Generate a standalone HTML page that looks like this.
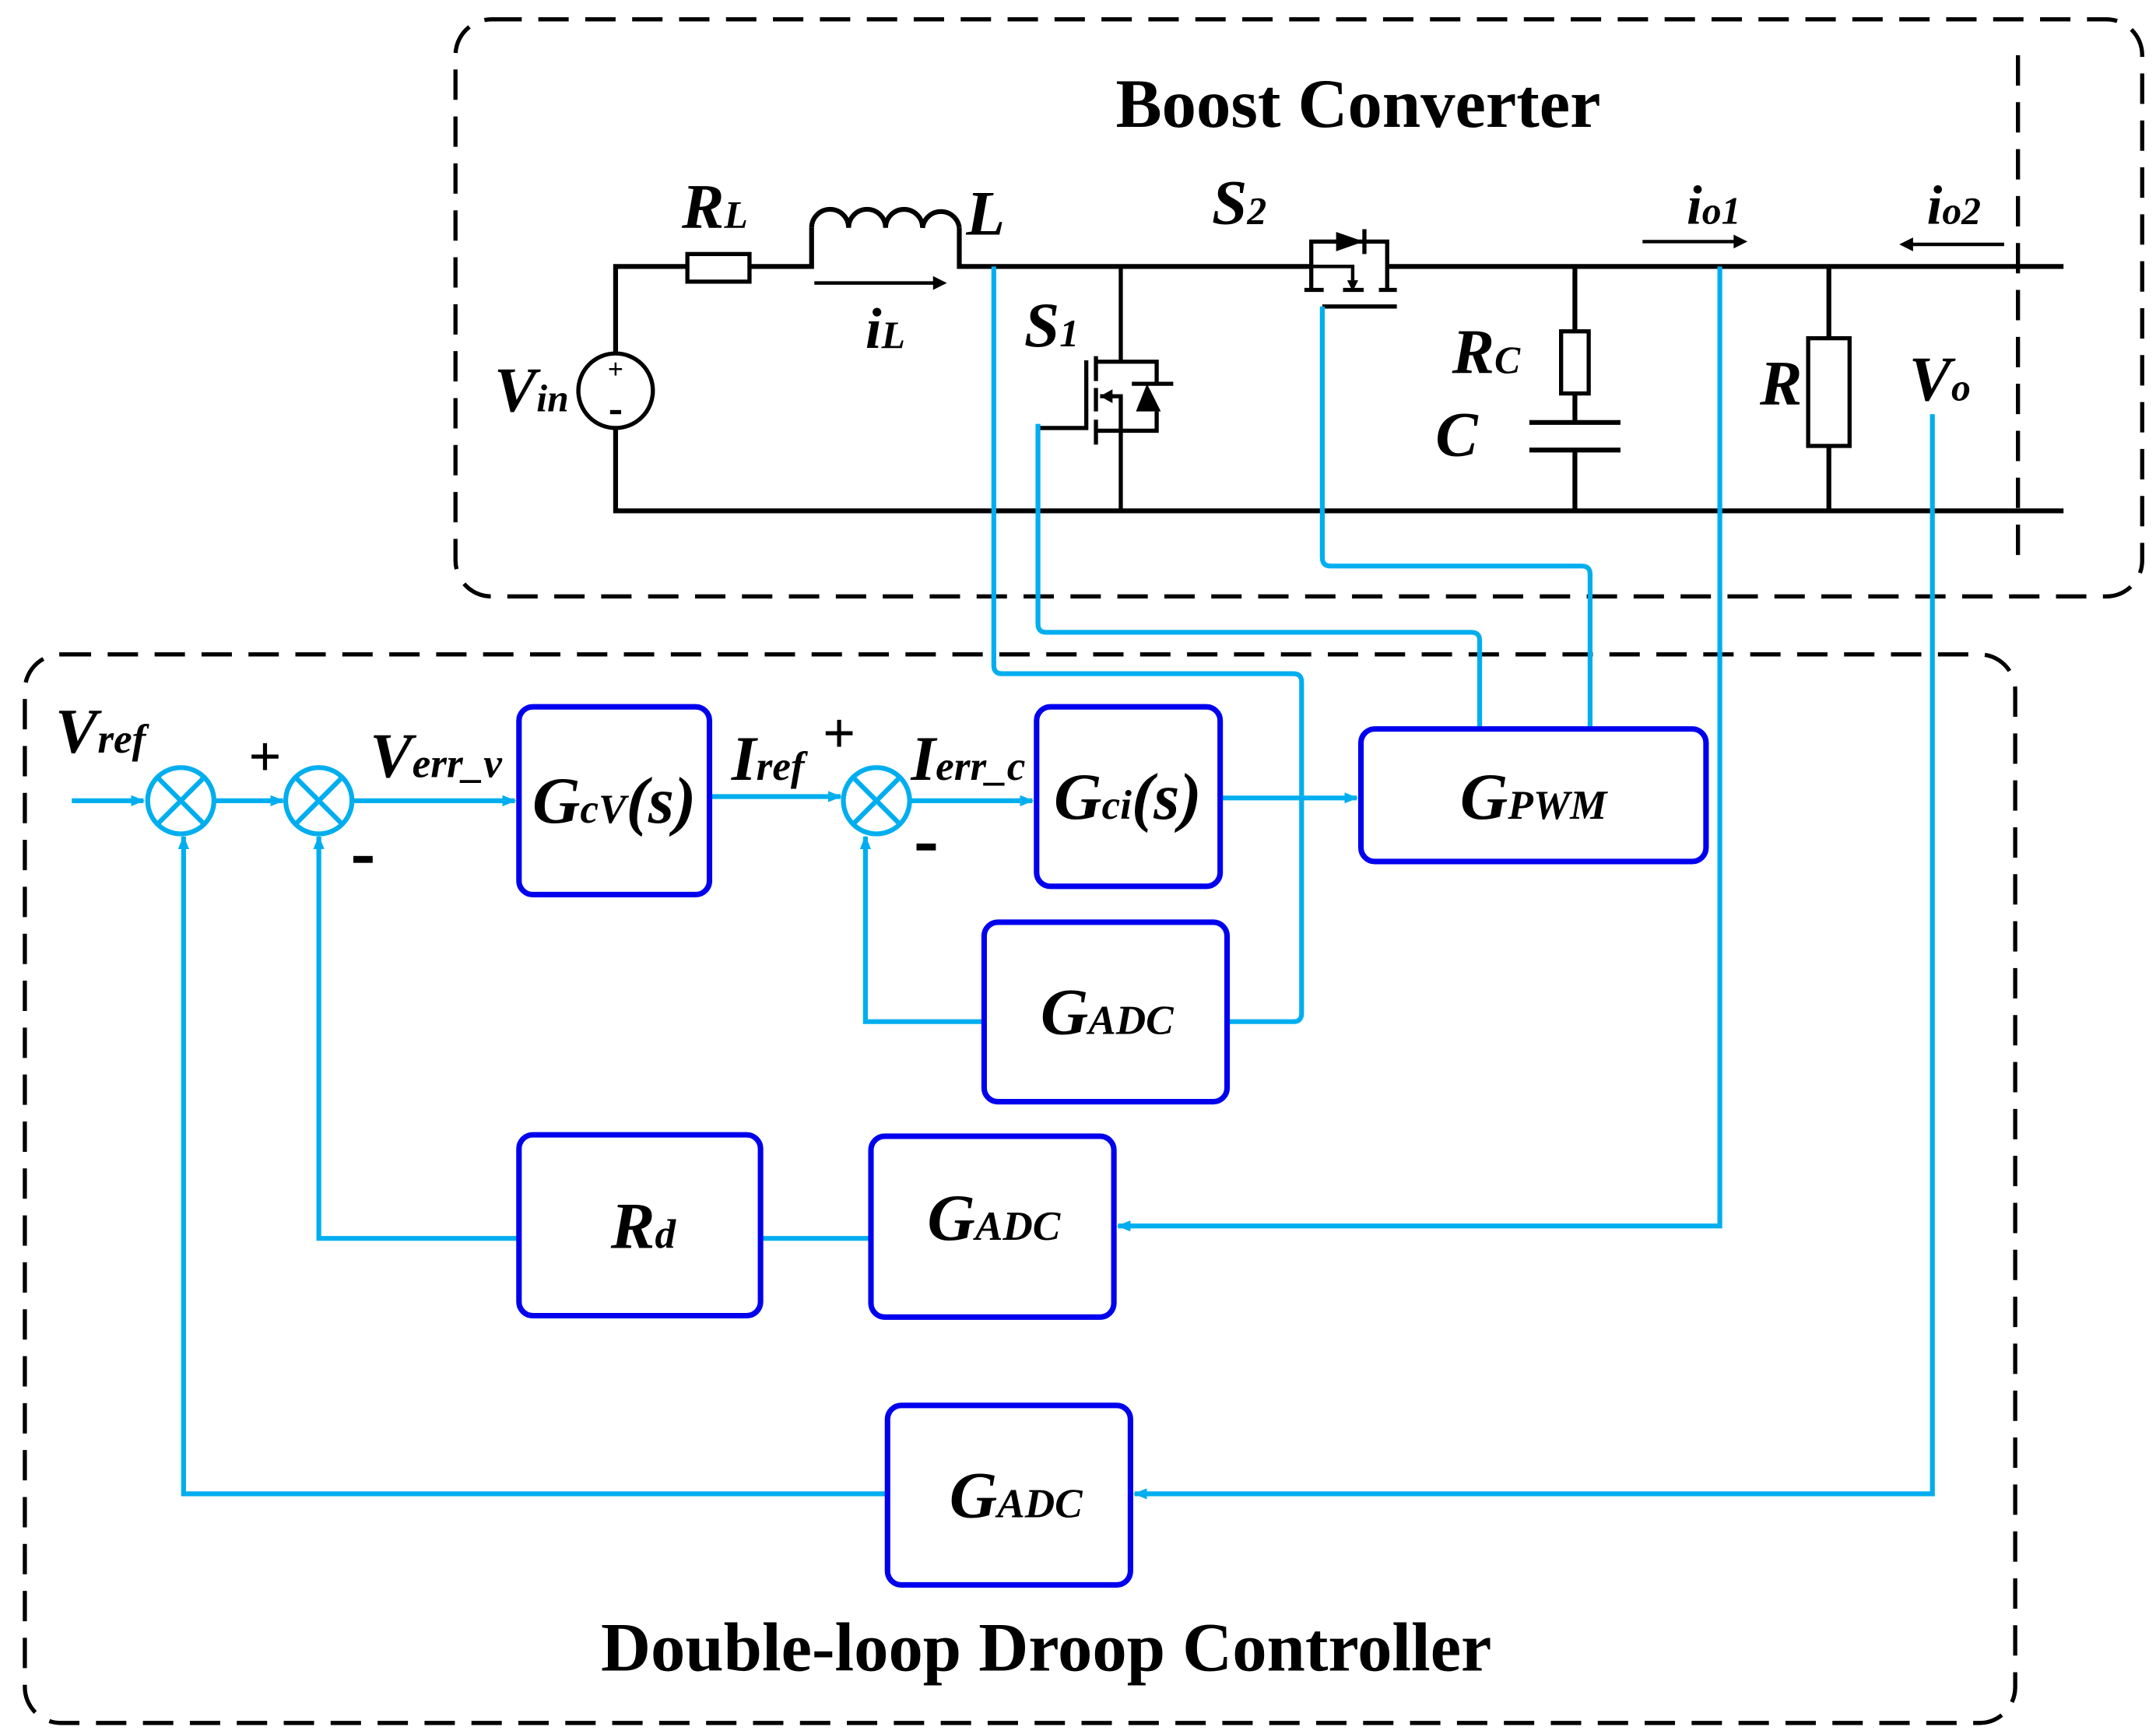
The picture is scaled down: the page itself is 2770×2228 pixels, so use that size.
<!DOCTYPE html>
<html><head><meta charset="utf-8"><style>
html,body{margin:0;padding:0;background:#fff}
svg{display:block}
text{font-family:"Liberation Serif",serif;font-weight:bold}
.i{font-style:italic}
</style></head><body>
<svg width="2770" height="2228" viewBox="0 0 1562 1256" preserveAspectRatio="none" xmlns="http://www.w3.org/2000/svg">
<defs>
<marker id="a" markerWidth="10" markerHeight="10" refX="9" refY="5" orient="auto" markerUnits="userSpaceOnUse"><path d="M0,1 L10,5 L0,9 z" fill="#00aeef"/></marker>
</defs>
<g fill="none" stroke="#000" stroke-width="3" stroke-dasharray="22,12">
<rect x="330" y="14" width="1222" height="418" rx="26"/>
<line x1="1462" y1="40" x2="1462" y2="410"/>
<rect x="18" y="474" width="1442" height="774" rx="26"/>
</g>
<text x="984" y="92" font-size="50" text-anchor="middle">Boost Converter</text>
<text x="758" y="1210" font-size="50" text-anchor="middle">Double-loop Droop Controller</text>

<g fill="none" stroke="#000" stroke-width="3.5">
<path d="M446,256 V193 H498 M543,193 H588 V165 M695,165 V193 H950 M1005,193 H1495"/>
<rect x="498" y="184" width="45" height="20" stroke-width="3"/>
<path d="M588,165 a13.4,13.4 0 0 1 26.8,0 a13.4,13.4 0 0 1 26.8,0 a13.4,13.4 0 0 1 26.8,0 a13.4,13.4 0 0 1 26.6,0"/>
<path d="M446,310 V370 H1495"/>
<circle cx="446" cy="283" r="27" stroke-width="3"/>
<path d="M812,193 V262 H794 M812,262 H838 V278 M838,298 V312 H812 M812,312 V370 M794,312 H812 M812,312 V287 H797" stroke-width="3"/>
<path d="M794,258 V276 M794,281 V298 M794,304 V322 M787,261 V310 H752" stroke-width="3"/>
<path d="M820,278 H850" stroke-width="3"/>
<path d="M950,193 V175 H1005 V193 M950,193 V210 M1005,193 V210 M945,210 H959 M973,210 H988 M999,210 H1012 M958,222 H1012" stroke-width="3"/>
<path d="M950,193 H980 V203" stroke-width="2.5"/>
<path d="M1141,193 V240 M1141,285 V306 M1141,326 V370 M1108,306 H1174 M1108,326 H1174"/>
<rect x="1131" y="240" width="20" height="45" stroke-width="3"/>
<path d="M1325,193 V245 M1325,323 V370"/>
<rect x="1310" y="245" width="30" height="78" stroke-width="3"/>
<path d="M590,205 H680 M1190,175 H1258 M1452,177 H1385" stroke-width="2.5"/>
</g>
<g fill="#000">
<path d="M831,278 L823,298 L841,298 z"/>
<path d="M797,287 L806,282 L806,292 z"/>
<path d="M968,168 L988,175 L968,182 z"/><rect x="987" y="166" width="3" height="18"/>
<path d="M976,203 L984,203 L980,211 z"/>
<path d="M686,205 L676,200 L676,210 z"/><path d="M1266,175 L1256,170 L1256,180 z"/><path d="M1376,177 L1386,172 L1386,182 z"/>
<rect x="442" y="297" width="8" height="3"/>
</g>
<text x="446" y="274" font-size="20" text-anchor="middle">+</text>
<g class="i">
<text x="494" y="165" font-size="46" class="i">R<tspan font-size="28">L</tspan></text>
<text x="700" y="170" font-size="46" class="i">L</text>
<text x="627" y="252" font-size="42" class="i">i<tspan font-size="28">L</tspan></text>
<text x="742" y="251" font-size="46" class="i">S<tspan font-size="28">1</tspan></text>
<text x="878" y="162" font-size="46" class="i">S<tspan font-size="28">2</tspan></text>
<text x="1222" y="162" font-size="40" class="i">i<tspan font-size="28">o1</tspan></text>
<text x="1396" y="162" font-size="40" class="i">i<tspan font-size="28">o2</tspan></text>
<text x="358" y="298" font-size="46" class="i">V<tspan font-size="28">in</tspan></text>
<text x="1052" y="270" font-size="46" class="i">R<tspan font-size="28">C</tspan></text>
<text x="1040" y="330" font-size="46" class="i">C</text>
<text x="1275" y="293" font-size="46" class="i">R</text>
<text x="1383" y="290" font-size="46" class="i">V<tspan font-size="28">o</tspan></text>
</g>

<g fill="none" stroke="#00aeef" stroke-width="3.5">
<path d="M720,193 V482 Q720,488 726,488 H937 Q943,488 943,494 V734 Q943,740 937,740 H890"/>
<path d="M752,307 V452 Q752,458 758,458 H1066 Q1072,458 1072,464 V528"/>
<path d="M958,222 V404 Q958,410 964,410 H1146 Q1152,410 1152,416 V528"/>
<path d="M1246,193 V888 H810" marker-end="url(#a)"/>
<path d="M1400,300 V1082 H822" marker-end="url(#a)"/>
<path d="M52,580 H104" marker-end="url(#a)"/>
<path d="M155,580 H205" marker-end="url(#a)"/>
<path d="M255,580 H373" marker-end="url(#a)"/>
<path d="M514,577 H609" marker-end="url(#a)"/>
<path d="M659,580 H748" marker-end="url(#a)"/>
<path d="M884,578 H983" marker-end="url(#a)"/>
<path d="M713,740 H627 V606" marker-end="url(#a)"/>
<path d="M551,897 H631"/>
<path d="M376,897 H231 V606" marker-end="url(#a)"/>
<path d="M643,1082 H133 V606" marker-end="url(#a)"/>
<circle cx="131" cy="580" r="24"/><circle cx="231" cy="580" r="24"/><circle cx="635" cy="580" r="24"/>
<path d="M114,563 L148,597 M148,563 L114,597 M214,563 L248,597 M248,563 L214,597 M618,563 L652,597 M652,563 L618,597"/>
</g>
<g fill="none" stroke="#0000ee" stroke-width="4">
<rect x="376" y="512" width="138" height="136" rx="10"/>
<rect x="751" y="512" width="133" height="130" rx="10"/>
<rect x="986" y="528" width="250" height="96" rx="10"/>
<rect x="713" y="668" width="176" height="130" rx="10"/>
<rect x="376" y="822" width="175" height="131" rx="10"/>
<rect x="631" y="823" width="176" height="131" rx="10"/>
<rect x="643" y="1018" width="176" height="130" rx="10"/>
</g>
<g font-size="48" class="i">
<text x="445" y="596" text-anchor="middle" class="i">G<tspan font-size="30">cV</tspan>(s)</text>
<text x="817" y="593" text-anchor="middle" class="i">G<tspan font-size="30">ci</tspan>(s)</text>
<text x="1111" y="593" text-anchor="middle" class="i">G<tspan font-size="30">PWM</tspan></text>
<text x="802" y="749" text-anchor="middle" class="i">G<tspan font-size="30">ADC</tspan></text>
<text x="466" y="904" text-anchor="middle" class="i">R<tspan font-size="30">d</tspan></text>
<text x="720" y="898" text-anchor="middle" class="i">G<tspan font-size="30">ADC</tspan></text>
<text x="736" y="1099" text-anchor="middle" class="i">G<tspan font-size="30">ADC</tspan></text>
</g>
<g font-size="46" class="i">
<text x="40" y="545" class="i">V<tspan font-size="30">ref</tspan></text>
<text x="268" y="563" class="i">V<tspan font-size="30">err_v</tspan></text>
<text x="530" y="565" class="i">I<tspan font-size="30">ref</tspan></text>
<text x="660" y="565" class="i">I<tspan font-size="30">err_c</tspan></text>
</g>
<g font-size="42">
<text x="180" y="562">+</text><text x="596" y="545">+</text>
</g>
<rect x="256" y="620" width="14" height="5" fill="#000"/>
<rect x="664" y="611" width="14" height="5" fill="#000"/>
</svg>
</body></html>
